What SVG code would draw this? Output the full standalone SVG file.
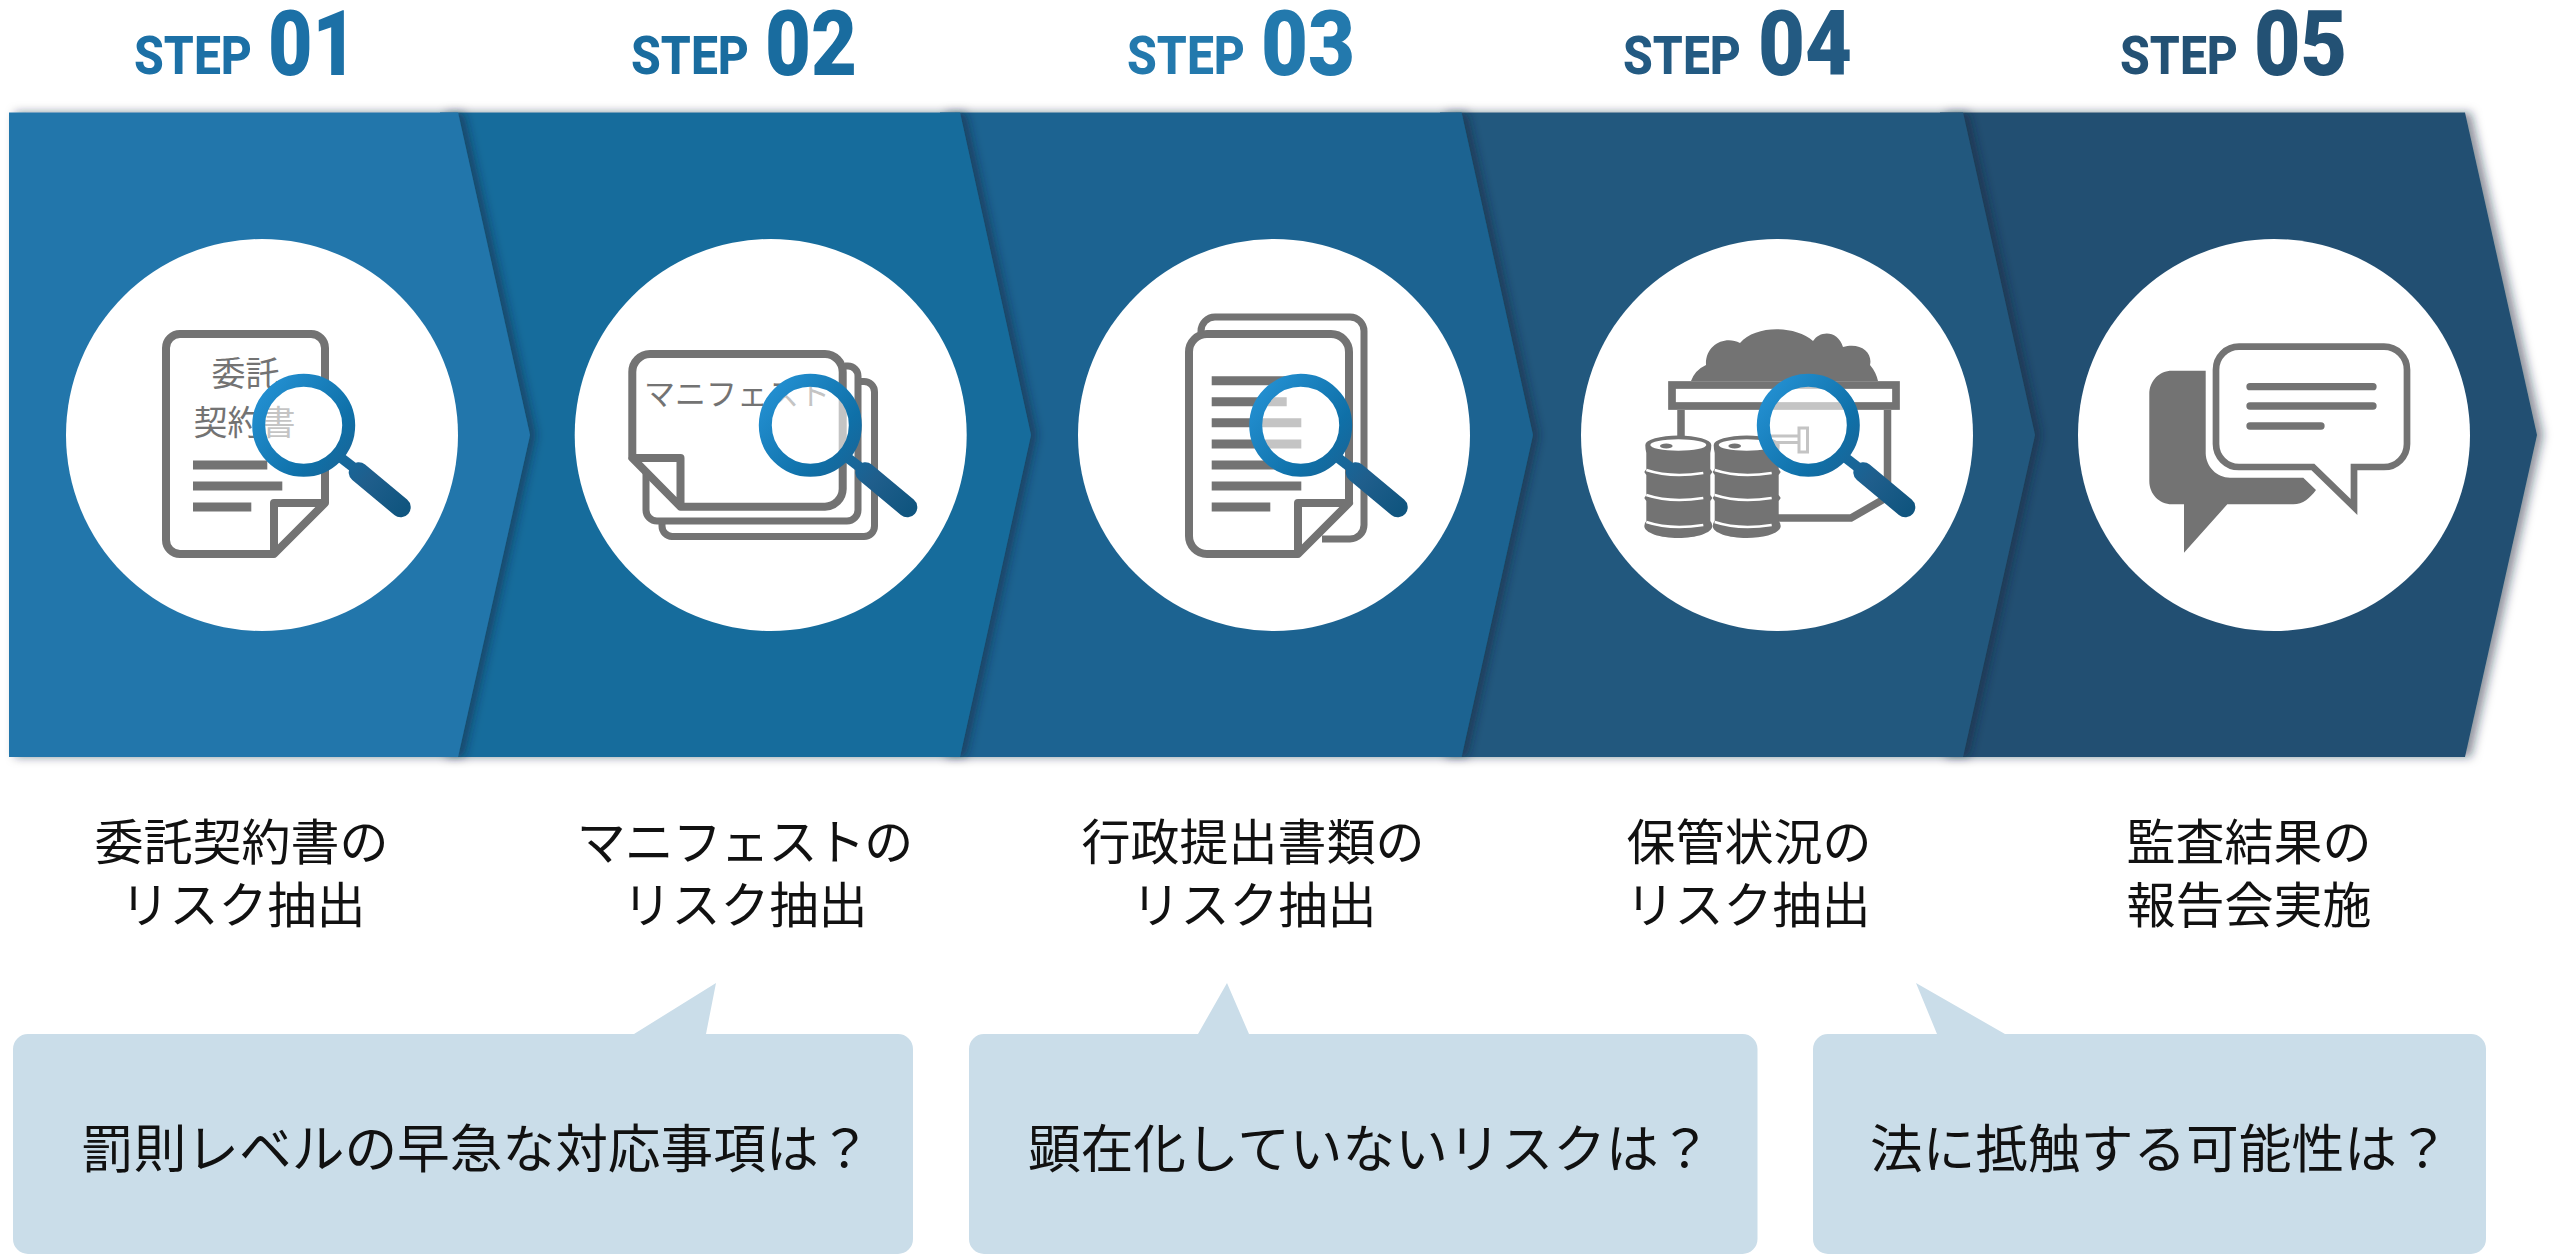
<svg xmlns="http://www.w3.org/2000/svg" width="2560" height="1254" viewBox="0 0 2560 1254">
<style>
.cap{font-family:"Noto Sans CJK JP","Noto Sans",sans-serif;font-size:49px;fill:#111;text-anchor:middle}
.ask{font-family:"Noto Sans CJK JP","Noto Sans",sans-serif;font-size:52.7px;fill:#111}
.st{font-family:Roboto,"Liberation Sans",sans-serif;font-weight:800;font-size:54px}
.nu{font-family:Roboto,"Liberation Sans",sans-serif;font-weight:900;font-size:90px}
.ic{fill:none;stroke:#737373;stroke-width:8;stroke-linejoin:round}
.thin{stroke-width:7}
.ict{font-family:"Noto Sans CJK JP","Noto Sans",sans-serif;fill:#737373}
.g{fill:#737373}
.box{fill:#cadde9}
.chev{filter:url(#sh)}
</style>
<defs>
<filter id="sh" x="-5%" y="-5%" width="112%" height="110%"><feDropShadow dx="6" dy="0" stdDeviation="5" flood-color="#0a2238" flood-opacity="0.5"/></filter>
<linearGradient id="mg" gradientUnits="userSpaceOnUse" x1="-45" y1="-35" x2="100" y2="85"><stop offset="0" stop-color="#2390d2"/><stop offset="0.45" stop-color="#0f70a8"/><stop offset="0.75" stop-color="#1f5e8c"/><stop offset="1" stop-color="#10557f"/></linearGradient>
<g id="magnifier">
<circle r="45" fill="#fff" fill-opacity="0.58" stroke="url(#mg)" stroke-width="13"/>
<path d="M34 30L56 47" stroke="url(#mg)" stroke-width="10" fill="none"/>
<path d="M55 47L97 82" stroke="url(#mg)" stroke-width="20" stroke-linecap="round" fill="none"/>
</g>
<g id="barrel">
<path class="g" d="M-33 0A33 9.500 0 0 1 33 0Q33 4 32 8V24L34 27L32 30V50L34 53L32 56V76Q34 78 34 81C34 88 18 93 0 93C-18 93 -34 88 -34 81Q-34 78 -32 76V56L-34 53L-32 50V30L-34 27L-32 24V8Q-33 4 -33 0Z"/>
<ellipse cx="0" cy="0" rx="28" ry="5.700" fill="#fff"/>
<ellipse cx="-12" cy="1" rx="6.300" ry="2.600" fill="#737373"/>
<path d="M-32 25Q-8 33 25 28M-32 50Q-8 58 25 53M-32 77Q-8 85 25 80" fill="none" stroke="#fff" stroke-width="2.500"/>
</g>
</defs>
<rect width="2560" height="1254" fill="#fff"/>

<g id="step5">
<polygon class="chev" fill="#235072" points="1940,112.5 2465,112.5 2537,435 2465,757 1940,757"/>
<text class="st" fill="#235174" x="2120" y="73.500" textLength="118" lengthAdjust="spacingAndGlyphs">STEP</text>
<text class="nu" fill="#235174" x="2254" y="75" textLength="93" lengthAdjust="spacingAndGlyphs">05</text>
<circle cx="2274" cy="435" r="196" fill="#fff"/>
<path class="g" d="M2172 370.7H2205.7V453.3C2206 467 2217 477.7 2230 477.7H2303.3L2316 490C2310 498 2303 504.3 2293.3 504.3H2227.3L2184 552.7V504.3H2172C2159 504.3 2149.3 494 2149.3 481V394C2149.3 381 2159 370.7 2172 370.7Z"/>
<path fill="none" stroke="#737373" stroke-width="6.700" stroke-linejoin="miter" d="M2239 346.7H2384A23 23 0 0 1 2407 369.7V444A23 23 0 0 1 2384 467H2354V507L2313 467H2239A23 23 0 0 1 2216 444V369.7A23 23 0 0 1 2239 346.7Z"/>
<path fill="none" stroke="#737373" stroke-width="7.300" stroke-linecap="round" d="M2250 386.7H2373M2250 406H2373M2250 426H2321"/>
</g>

<g id="step4">
<polygon class="chev" fill="#24587e" points="1440,112.5 1963,112.5 2035,435 1963,757 1440,757"/>
<text class="st" fill="#235a82" x="1623" y="73.500" textLength="118" lengthAdjust="spacingAndGlyphs">STEP</text>
<text class="nu" fill="#235a82" x="1758" y="75" textLength="94" lengthAdjust="spacingAndGlyphs">04</text>
<circle cx="1777" cy="435" r="196" fill="#fff"/>
<path class="g" d="M1691 381Q1695 370 1706 365C1705 345 1725 335 1740 343C1755 325 1795 325 1813 341C1820 330 1838 330 1843 347C1860 342 1873 352 1870 365Q1876 372 1878 381Z"/>
<rect x="1672" y="385" width="224" height="21" fill="none" stroke="#737373" stroke-width="7.700"/>
<path fill="none" stroke="#737373" stroke-width="7.500" d="M1681 410V436M1887.5 410V497L1851 518H1770"/>
<rect x="1799" y="428" width="8.500" height="24" fill="none" stroke="#737373" stroke-width="3"/>
<path fill="none" stroke="#737373" stroke-width="3" d="M1770 436H1799M1770 442.500H1799"/>
<use href="#barrel" x="1678.3" y="445"/>
<use href="#barrel" x="1746.7" y="445"/>
<use href="#magnifier" x="1808.3" y="425.3"/>
</g>

<g id="step3">
<polygon class="chev" fill="#1a6491" points="940,112.5 1461.6,112.5 1533,435 1461.6,757 940,757"/>
<text class="st" fill="#2379ad" x="1127" y="73.500" textLength="118" lengthAdjust="spacingAndGlyphs">STEP</text>
<text class="nu" fill="#2379ad" x="1261" y="75" textLength="94" lengthAdjust="spacingAndGlyphs">03</text>
<circle cx="1274" cy="435" r="196" fill="#fff"/>
<path class="ic thin" d="M1201 332V331A14 14 0 0 1 1215 317H1350A14 14 0 0 1 1364 331V525A14 14 0 0 1 1350 539H1322"/>
<path class="ic" d="M1349 503V352A18 18 0 0 0 1331 334H1207A18 18 0 0 0 1189 352V536A18 18 0 0 0 1207 554H1298L1349 503H1298V554"/>
<path class="g" d="M1211.7 376.2h78v9h-78zM1211.7 397.2h75v9h-75zM1211.7 418.2h89.6v9h-89.6zM1211.7 439.5h89.6v9h-89.6zM1211.7 460.5h70v9h-70zM1211.7 481.5h89.6v9h-89.6zM1211.7 502.5h58.6v9h-58.6z"/>
<use href="#magnifier" x="1300.7" y="425.3"/>
</g>

<g id="step2">
<polygon class="chev" fill="#186c9c" points="440,112.5 960,112.5 1031,435 960,757 440,757"/>
<text class="st" fill="#196c9f" x="631" y="73.500" textLength="118" lengthAdjust="spacingAndGlyphs">STEP</text>
<text class="nu" fill="#196c9f" x="765" y="75" textLength="92" lengthAdjust="spacingAndGlyphs">02</text>
<circle cx="770.7" cy="435" r="196" fill="#fff"/>
<path class="ic thin" d="M860 381.5H864A10.5 10.5 0 0 1 874.5 392V526A10.5 10.5 0 0 1 864 536.5H672A10.5 10.5 0 0 1 662 526V523"/>
<path class="ic thin" d="M845 366H848A10 10 0 0 1 858 376V510A11 11 0 0 1 847 521H657A11 11 0 0 1 646 510V472"/>
<path class="ic" d="M632.3 458V372A18 18 0 0 1 650 354H825A18 18 0 0 1 842.7 372V489A18 18 0 0 1 825 506.7H680.5L632.3 458H680.5V506.7"/>
<text class="ict" font-size="31" x="644" y="405">マニフェスト</text>
<use href="#magnifier" x="810.3" y="425.3"/>
</g>

<g id="step1">
<polygon class="chev" fill="#2476ab" points="9,112.5 458,112.5 530,435 458,757 9,757"/>
<text class="st" fill="#1c70a6" x="134" y="73.500" textLength="118" lengthAdjust="spacingAndGlyphs">STEP</text>
<text class="nu" fill="#1c70a6" x="268" y="75" textLength="89" lengthAdjust="spacingAndGlyphs">01</text>
<circle cx="262" cy="435" r="196" fill="#fff"/>
<path class="ic" d="M325 385V348A14 14 0 0 0 311 334H180A14 14 0 0 0 166 348V540A14 14 0 0 0 180 554H274L325 503V465M325 503H274V554"/>
<text class="ict" font-size="34" x="211.500" y="386">委託</text>
<text class="ict" font-size="34" x="193.500" y="435">契約書</text>
<path class="g" d="M193 460.5h74.3v9h-74.3zM193 481.5h89.3v9h-89.3zM193 502.5h58.3v9h-58.3z"/>
<use href="#magnifier" x="303.7" y="425.3"/>
</g>

<g id="caption1"><text class="cap" x="241.500" y="860">委託契約書の</text><text class="cap" x="243" y="923">リスク抽出</text></g>
<g id="caption2"><text class="cap" x="744.500" y="860" letter-spacing="-1.100">マニフェストの</text><text class="cap" x="745" y="923">リスク抽出</text></g>
<g id="caption3"><text class="cap" x="1253" y="860">行政提出書類の</text><text class="cap" x="1254" y="923">リスク抽出</text></g>
<g id="caption4"><text class="cap" x="1749" y="860">保管状況の</text><text class="cap" x="1748" y="923">リスク抽出</text></g>
<g id="caption5"><text class="cap" x="2249" y="860">監査結果の</text><text class="cap" x="2249" y="923">報告会実施</text></g>

<g id="callout1"><path class="box" d="M28 1034H634L716 983L706 1034H898A15 15 0 0 1 913 1049V1239A15 15 0 0 1 898 1254H28A15 15 0 0 1 13 1239V1049A15 15 0 0 1 28 1034Z"/><text class="ask" x="81" y="1168">罰則レベルの早急な対応事項は？</text></g>
<g id="callout2"><path class="box" d="M984 1034H1198L1227 983L1249 1034H1742.5A15 15 0 0 1 1757.5 1049V1239A15 15 0 0 1 1742.5 1254H984A15 15 0 0 1 969 1239V1049A15 15 0 0 1 984 1034Z"/><text class="ask" x="1028" y="1168">顕在化していないリスクは？</text></g>
<g id="callout3"><path class="box" d="M1828 1034H1937L1916 983L2005 1034H2471A15 15 0 0 1 2486 1049V1239A15 15 0 0 1 2471 1254H1828A15 15 0 0 1 1813 1239V1049A15 15 0 0 1 1828 1034Z"/><text class="ask" x="1870" y="1168">法に抵触する可能性は？</text></g>
</svg>
